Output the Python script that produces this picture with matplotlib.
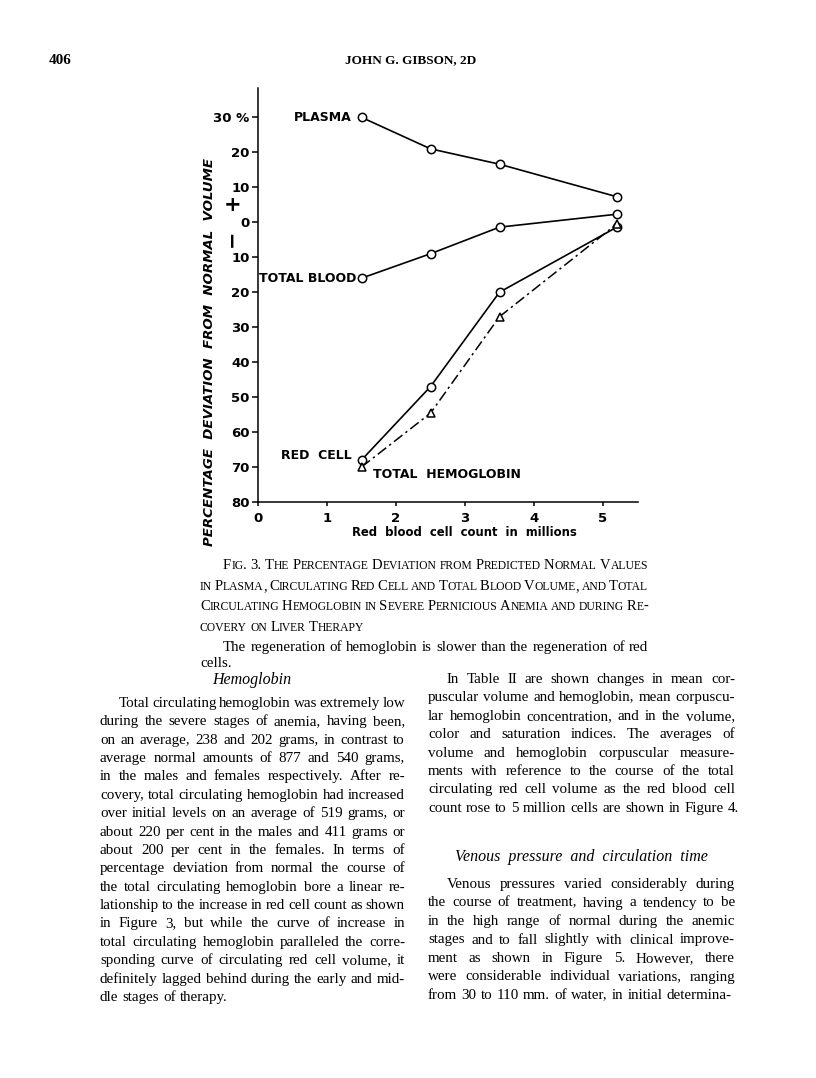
import matplotlib
matplotlib.use('Agg')
import matplotlib.pyplot as plt
from matplotlib.font_manager import FontProperties

# data
rbc_count = [1.5, 2.5, 3.5, 5.2]
plasma = [30, 21, 16.6, 7.3]
total_blood = [-16, -9, -1.4, 2.3]
red_cell = [-68, -47, -20, -1.4]
total_hemoglobin = [-70, -54.6, -27, -0.5]

y_ticks = [30, 20, 10, 0, -10, -20, -30, -40, -50, -60, -70, -80]
y_tick_labels = ['30 %', '20', '10', '0', '10', '20', '30', '40', '50', '60', '70', '80']
x_ticks = [0, 1, 2, 3, 4, 5]

caption = [
    "Fig. 3.  The Percentage Deviation from Predicted Normal Values",
    "in Plasma, Circulating Red Cell and Total Blood Volume, and Total",
    "Circulating Hemoglobin in Severe Pernicious Anemia and during Re-",
    "covery on Liver Therapy",
]
caption_note = [
    "The regeneration of hemoglobin is slower than the regeneration of red",
    "cells.",
]
left_col = [
    "Total circulating hemoglobin was extremely low",
    "during the severe stages of anemia, having been,",
    "on an average, 238 and 202 grams, in contrast to",
    "average normal amounts of 877 and 540 grams,",
    "in the males and females respectively.  After re-",
    "covery, total circulating hemoglobin had increased",
    "over initial levels on an average of 519 grams, or",
    "about 220 per cent in the males and 411 grams or",
    "about 200 per cent in the females.  In terms of",
    "percentage deviation from normal the course of",
    "the total circulating hemoglobin bore a linear re-",
    "lationship to the increase in red cell count as shown",
    "in Figure 3, but while the curve of increase in",
    "total circulating hemoglobin paralleled the corre-",
    "sponding curve of circulating red cell volume, it",
    "definitely lagged behind during the early and mid-",
    "dle stages of therapy.",
]
right_col_1 = [
    "In Table II are shown changes in mean cor-",
    "puscular volume and hemoglobin, mean corpuscu-",
    "lar hemoglobin concentration, and in the volume,",
    "color and saturation indices.  The averages of",
    "volume and hemoglobin corpuscular measure-",
    "ments with reference to the course of the total",
    "circulating red cell volume as the red blood cell",
    "count rose to 5 million cells are shown in Figure 4.",
]
right_col_2 = [
    "Venous pressures varied considerably during",
    "the course of treatment, having a tendency to be",
    "in the high range of normal during the anemic",
    "stages and to fall slightly with clinical improve-",
    "ment as shown in Figure 5.  However, there",
    "were considerable individual variations, ranging",
    "from 30 to 110 mm. of water, in initial determina-",
]

W, H = 816, 1078
fig = plt.figure(figsize=(W / 100, H / 100), dpi=100)
renderer = fig.canvas.get_renderer()


def fx(x):
    return x / W


def fy(y):
    return 1 - y / H


def text_width(s, fp):
    w, h, d = renderer.get_text_width_height_descent(s, fp, ismath=False)
    return w


# sets one line of words between x0 and x1, spread out if fill
def set_line(words, x0, x1, y, fill=True):
    widths = [sum(text_width(s, fp) for s, fp in w) for w in words]
    if fill and len(words) > 1:
        gap = (x1 - x0 - sum(widths)) / (len(words) - 1)
    else:
        gap = words[0][0][1].get_size_in_points() / 0.72 * 0.28
    x = x0
    for w, wd in zip(words, widths):
        xx = x
        for s, fp in w:
            fig.text(fx(xx), fy(y), s, fontproperties=fp, va='baseline', ha='left')
            xx += text_width(s, fp)
        x += wd + gap


def plain_words(line, fp):
    return [[(w, fp)] for w in line.split()]


def small_caps_words(line, big, small):
    words = []
    for w in line.split():
        runs = []
        for ch in w:
            if ch.islower():
                key, c = 'small', ch.upper()
            else:
                key, c = 'big', ch
            if runs and runs[-1][2] == key:
                runs[-1][0] += c
            else:
                runs.append([c, big if key == 'big' else small, key])
        words.append([(r[0], r[1]) for r in runs])
    return words


def paragraph(lines, x0, x1, y0, step, fp, indent):
    for i, line in enumerate(lines):
        last = i == len(lines) - 1
        start = x0 + (indent if i == 0 else 0)
        set_line(plain_words(line, fp), start, x1, y0 + i * step, fill=not last)


serif = FontProperties(family='Liberation Serif', size=10.8)
serif_it = FontProperties(family='Liberation Serif', style='italic', size=11.5)
cap_big = FontProperties(family='Liberation Serif', size=10.5)
cap_small = FontProperties(family='Liberation Serif', size=8.4)

# page header
fig.text(fx(60), fy(60), '406', fontproperties=FontProperties(family='Liberation Serif', weight='bold', size=11),
         ha='center', va='center')
fig.text(fx(411), fy(60), 'JOHN G. GIBSON, 2D',
         fontproperties=FontProperties(family='Liberation Serif', weight='bold', size=9.5), ha='center', va='center')

# the chart
ax = fig.add_axes([fx(258), fy(502), 380 / W, 414 / H])
ax.set_xlim(0, 380 / 69)
ax.set_ylim(-80, 30 + 29.3 / 3.491)
for side in ['top', 'right']:
    ax.spines[side].set_visible(False)
for side in ['left', 'bottom']:
    ax.spines[side].set_linewidth(1.1)

bold = dict(family='DejaVu Sans', weight='bold')
ax.set_yticks(y_ticks)
ax.set_yticklabels(y_tick_labels, fontsize=9.5, **bold)
ax.set_xticks(x_ticks)
ax.set_xticklabels([str(v) for v in x_ticks], fontsize=9.5, **bold)
ax.tick_params(axis='y', length=4, width=1.1, pad=2)
ax.tick_params(axis='x', length=3, width=1.1, pad=4)

circle = dict(color='black', lw=1.2, marker='o', ms=6, mfc='white', mew=1.1)
ax.plot(rbc_count, plasma, **circle)
ax.plot(rbc_count, total_blood, **circle)
ax.plot(rbc_count, red_cell, **circle)
ax.plot(rbc_count, total_hemoglobin, color='black', lw=1.1, ls=(0, (7, 2.5, 1.5, 2.5)),
        marker='^', ms=6, mfc='white', mew=1.1)

ax.text(1.36, 30, 'PLASMA', ha='right', va='center', fontsize=9, **bold)
ax.text(1.42, -16, 'TOTAL BLOOD', ha='right', va='center', fontsize=9, **bold)
ax.text(1.36, -66.8, 'RED  CELL', ha='right', va='center', fontsize=9, **bold)
ax.text(1.67, -72.2, 'TOTAL  HEMOGLOBIN', ha='left', va='center', fontsize=9, **bold)

fig.text(fx(210), fy(352), 'PERCENTAGE  DEVIATION  FROM  NORMAL  VOLUME', rotation=90,
         ha='center', va='center', fontsize=9.6, style='italic', family='DejaVu Sans', weight='bold')
fig.text(fx(233), fy(205), '+', ha='center', va='center', fontsize=15, family='DejaVu Sans', weight='bold')
fig.text(fx(231), fy(238), '\u2212', rotation=90, ha='center', va='center', fontsize=15,
         family='DejaVu Sans', weight='bold')
fig.text(fx(464), fy(533), 'Red  blood  cell  count  in  millions', ha='center', va='center',
         fontsize=8.4, family='DejaVu Sans', weight='bold')

# caption
cap_y = [569, 590, 610, 631]
for i, line in enumerate(caption):
    start = 223 if i == 0 else 200
    set_line(small_caps_words(line, cap_big, cap_small), start, 648, cap_y[i], fill=i < 3)
set_line(plain_words(caption_note[0], serif), 223, 648, 651)
set_line(plain_words(caption_note[1], serif), 200, 648, 667, fill=False)

# body text
fig.text(fx(252), fy(684), 'Hemoglobin', fontproperties=serif_it, ha='center', va='baseline')
paragraph(left_col, 100, 405, 707, 18.37, serif, 19)
paragraph(right_col_1, 428, 735, 683, 18.4, serif, 19)
fig.text(fx(581), fy(861), 'Venous  pressure  and  circulation  time', fontproperties=serif_it,
         ha='center', va='baseline')
paragraph(right_col_2, 428, 735, 888, 18.5, serif, 19)

fig.savefig('out.png', dpi=100)
